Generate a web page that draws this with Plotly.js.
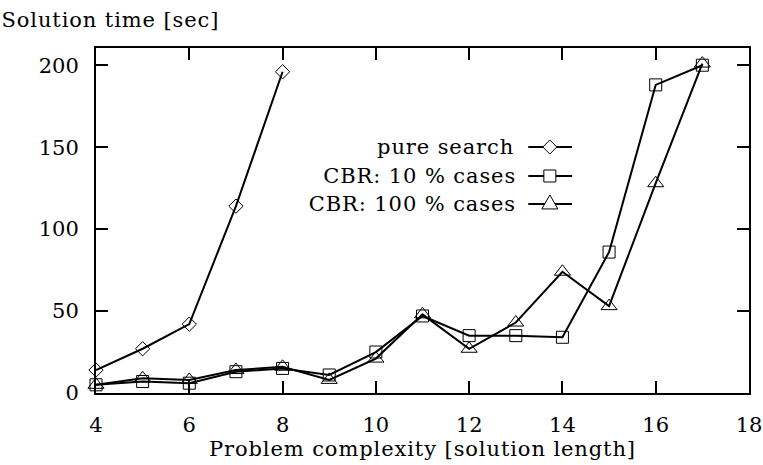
<!DOCTYPE html>
<html><head><meta charset="utf-8">
<script src="https://cdn.plot.ly/plotly-3.0.1.min.js"></script>
<style>html,body{margin:0;padding:0;background:#fff}
#chart .xtitle, #chart .annotation-text{letter-spacing:0.9px}</style>
</head><body><div id="chart" style="width:763px;height:465px"></div>
<script>
const xPure = [4, 5, 6, 7, 8];
const yPure = [14, 27, 42, 114, 196];
const xCbr10 = [4, 5, 6, 7, 8, 9, 10, 11, 12, 13, 14, 15, 16, 17];
const yCbr10 = [5, 7, 6, 13, 15, 11, 25, 47, 35, 35, 34, 86, 188, 200];
const xCbr100 = [4, 5, 6, 7, 8, 9, 10, 11, 12, 13, 14, 15, 16, 17];
const yCbr100 = [5, 9, 8, 14, 16, 8, 21, 48, 27, 43, 74, 53, 128, 201];
const seriesNames = ["pure search", "CBR: 10 % cases", "CBR: 100 % cases"];
const xTicks = [4, 6, 8, 10, 12, 14, 16, 18];
const yTicks = [0, 50, 100, 150, 200];
const xTitle = "Problem complexity [solution length]";
const yTitle = "Solution time [sec]";

const FONT = "DejaVu Serif";
const FS = 21;
const lineStyle = {color: "#000", width: 2};
function mk(sym, size) {
  return {symbol: sym, size: size, color: "#000", line: {color: "#000", width: 1}};
}
const traces = [
  {x: xPure, y: yPure, mode: "lines+markers", name: seriesNames[0], line: lineStyle, marker: mk("diamond-open", 11), cliponaxis: false},
  {x: xCbr10, y: yCbr10, mode: "lines+markers", name: seriesNames[1], line: lineStyle, marker: mk("square-open", 12), cliponaxis: false},
  {x: xCbr100, y: yCbr100, mode: "lines+markers", name: seriesNames[2], line: lineStyle, marker: mk("triangle-up-open", 14), cliponaxis: false}
];

// manual legend (text on the left, sample on the right)
const legY = [0.713, 0.629, 0.548];
const legPaths = [
  "M 0 7 L 7 0 L 0 -7 L -7 0 Z",
  "M -6 -6 L 6 -6 L 6 6 L -6 6 Z",
  "M 0 9 L 8 -5 L -8 -5 Z"
];
const shapes = [];
const annotations = [];
for (let i = 0; i < 3; i++) {
  shapes.push({type: "line", xref: "paper", yref: "paper", x0: 0.662, x1: 0.729, y0: legY[i], y1: legY[i], line: {color: "#000", width: 2}});
  shapes.push({type: "path", xref: "paper", yref: "paper", xsizemode: "pixel", ysizemode: "pixel", xanchor: 0.695, yanchor: legY[i], path: legPaths[i], fillcolor: "#fff", line: {color: "#000", width: 1}});
  annotations.push({text: seriesNames[i], xref: "paper", yref: "paper", x: 0.636, y: legY[i], xanchor: "right", yanchor: "middle", showarrow: false, font: {family: FONT, size: FS, color: "#000"}});
}
annotations.push({text: yTitle, xref: "paper", yref: "paper", x: -0.135, y: 1.081, xanchor: "left", yanchor: "middle", showarrow: false, font: {family: FONT, size: FS, color: "#000"}});

const axisCommon = {
  showgrid: false, zeroline: false, showline: true, linecolor: "#000", linewidth: 2,
  mirror: "allticks", ticks: "inside", ticklen: 12, tickwidth: 2, tickcolor: "#000",
  tickfont: {family: FONT, size: FS, color: "#000"}
};
const layout = {
  width: 763, height: 465,
  margin: {l: 96, r: 14, t: 48, b: 72},
  paper_bgcolor: "#fff", plot_bgcolor: "#fff",
  showlegend: false,
  font: {family: FONT, color: "#000"},
  xaxis: Object.assign({}, axisCommon, {range: [4, 18], tickvals: xTicks, ticktext: xTicks.map(String), ticklabelstandoff: 12,
    title: {text: xTitle, font: {family: FONT, size: FS, color: "#000"}, standoff: 4}}),
  yaxis: Object.assign({}, axisCommon, {range: [0, 210.5], tickvals: yTicks, ticktext: yTicks.map(String), ticklabelstandoff: 11}),
  shapes: shapes,
  annotations: annotations
};
Plotly.newPlot("chart", traces, layout, {displayModeBar: false, staticPlot: true});
</script></body></html>
